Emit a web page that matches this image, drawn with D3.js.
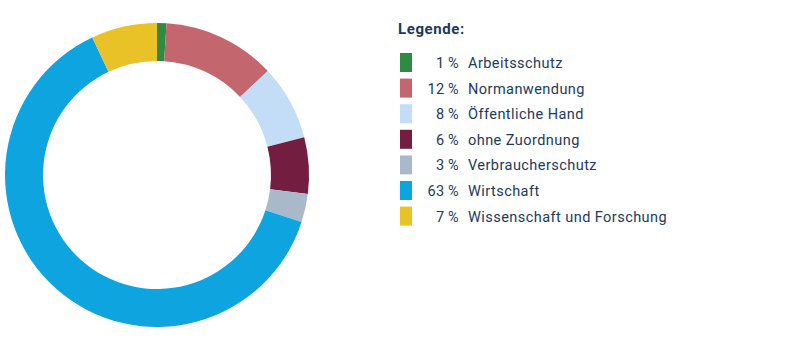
<!DOCTYPE html>
<html><head><meta charset="utf-8">
<script src="https://cdn.jsdelivr.net/npm/d3@7"></script>
<style>body{margin:0;background:#fff;}svg{display:block;}</style>
</head><body>
<svg id="c" width="801" height="351"></svg>
<script>
const categories = ["Arbeitsschutz","Normanwendung","Öffentliche Hand","ohne Zuordnung","Verbraucherschutz","Wirtschaft","Wissenschaft und Forschung"];
const values = [1,12,8,6,3,63,7];
const colors = ["#2f8a44","#c4666e","#c2ddf5","#731d40","#a9b9ca","#0ea4e0","#e8c227"];
const legendTitle = "Legende:";

const svg = d3.select("#c");
const cx = 157, cy = 175, rOut = 152, rIn = 114;
const pie = d3.pie().sort(null).value(d => d)(values);
const arc = d3.arc().innerRadius(rIn).outerRadius(rOut);
svg.append("g").attr("transform", `translate(${cx},${cy})`)
  .selectAll("path").data(pie).join("path")
  .attr("d", arc).attr("fill", (d,i) => colors[i]);

const txt = "#1b3a5e";
const font = "Roboto, 'DejaVu Sans', sans-serif";
svg.append("text").attr("x",398).attr("y",34).text(legendTitle)
  .attr("font-family",font).attr("font-size",15).attr("font-weight","bold")
  .attr("letter-spacing",0.6).attr("fill",txt);

const y = d3.scaleBand().domain(categories).range([53, 53 + 25.6*categories.length]);
const lg = svg.append("g").selectAll("g").data(categories).join("g")
  .attr("transform", d => `translate(0,${y(d)})`);
lg.append("rect").attr("x",400).attr("y",0).attr("width",12).attr("height",19).attr("fill",(d,i)=>colors[i]);
lg.append("text").attr("x",459).attr("y",15).attr("text-anchor","end")
  .attr("font-family",font).attr("font-size",14.5).attr("fill",txt)
  .attr("letter-spacing",0.4)
  .text((d,i)=>values[i] + "\u2009%");
lg.append("text").attr("x",468).attr("y",15)
  .attr("font-family",font).attr("font-size",14.5).attr("fill",txt)
  .attr("letter-spacing",0.45)
  .text(d=>d);
</script>
</body></html>
